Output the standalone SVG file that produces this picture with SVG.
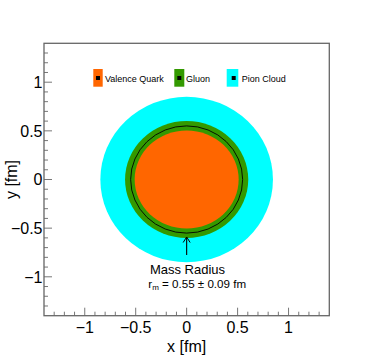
<svg xmlns="http://www.w3.org/2000/svg" width="374" height="360" viewBox="0 0 374 360">
<style>
text{font-family:"Liberation Sans",Arial,sans-serif;fill:#000}
.tl{font-size:16px}
.lg{font-size:9px}
.ann{font-size:13px}
.tick{stroke:#777;stroke-width:1;fill:none}
.frame{stroke:#666;stroke-width:1.3;fill:none}
.mk{fill:#000}
</style>
<defs>
<marker id="arr" viewBox="0 0 10 10" refX="9" refY="5" markerWidth="10" markerHeight="10" markerUnits="userSpaceOnUse" orient="auto">
<path d="M3.5,1.5 L9,5 L3.5,8.5" stroke="#000" stroke-width="1" fill="none"/>
</marker>
</defs>
<rect width="374" height="360" fill="#fff"/>
<g id="pion-cloud"><ellipse cx="186.65" cy="179.5" rx="86.3" ry="82.7" fill="#00ffff"/></g>
<g id="gluon"><ellipse cx="186.65" cy="179.5" rx="61.6" ry="58.4" fill="#339900"/></g>
<g id="valence-quark"><ellipse cx="186.65" cy="179.5" rx="52" ry="49" fill="#ff6600"/></g>
<g id="mass-radius-circle"><ellipse cx="186.65" cy="179.5" rx="56" ry="53.6" fill="none" stroke="#000" stroke-width="0.9"/></g>
<g id="connectors">
<line x1="186.65" y1="255" x2="186.65" y2="237" stroke="#000" stroke-width="1.1" marker-end="url(#arr)"/>
</g>
<g id="mass-radius-label">
<text class="ann" x="187.5" y="273.5" text-anchor="middle">Mass Radius</text>
<text x="148.3" y="287.5" style="font-size:11.6px">r<tspan dy="2.5" style="font-size:8px">m</tspan><tspan dy="-2.5"> = 0.55 ± 0.09 fm</tspan></text>
</g>
<g id="legend">
<rect x="93.3" y="69" width="9.4" height="17.7" fill="#ff6600"/>
<rect x="96" y="76" width="4" height="4" class="mk"/>
<text class="lg" x="105" y="82">Valence Quark</text>
<rect x="174.3" y="69" width="10" height="17.7" fill="#339900"/>
<rect x="177.3" y="76" width="4" height="4" class="mk"/>
<text class="lg" x="186" y="82">Gluon</text>
<rect x="226.7" y="69" width="11.6" height="17.7" fill="#00ffff"/>
<rect x="231.7" y="76" width="4" height="4" class="mk"/>
<text class="lg" x="241.7" y="82">Pion Cloud</text>
</g>
<g id="axes">
<path class="tick" d="M54.18,315.7v-4M64.37,315.7v-4M74.56,315.7v-4M84.75,315.7v-8M94.94,315.7v-4M105.13,315.7v-4M115.32,315.7v-4M125.51,315.7v-4M135.7,315.7v-8M145.89,315.7v-4M156.08,315.7v-4M166.27,315.7v-4M176.46,315.7v-4M186.65,315.7v-8M196.84,315.7v-4M207.03,315.7v-4M217.22,315.7v-4M227.41,315.7v-4M237.6,315.7v-8M247.79,315.7v-4M257.98,315.7v-4M268.17,315.7v-4M278.36,315.7v-4M288.55,315.7v-8M298.74,315.7v-4M308.93,315.7v-4M319.12,315.7v-4"/>
<path class="tick" d="M44,53.01h4M44,62.74h4M44,72.47h4M44,82.2h8M44,91.93h4M44,101.66h4M44,111.39h4M44,121.12h4M44,130.85h8M44,140.58h4M44,150.31h4M44,160.04h4M44,169.77h4M44,179.5h8M44,189.23h4M44,198.96h4M44,208.69h4M44,218.42h4M44,228.15h8M44,237.88h4M44,247.61h4M44,257.34h4M44,267.07h4M44,276.8h8M44,286.53h4M44,296.26h4M44,305.99h4"/>
<rect class="frame" x="44" y="43.3" width="285.3" height="272.4"/>
<g class="tl" text-anchor="middle">
<text x="84.75" y="333">−1</text>
<text x="135.7" y="333">−0.5</text>
<text x="186.65" y="333">0</text>
<text x="237.6" y="333">0.5</text>
<text x="288.55" y="333">1</text>
</g>
<g class="tl" text-anchor="end">
<text x="42.5" y="88">1</text>
<text x="42.5" y="136.7">0.5</text>
<text x="42.5" y="185.4">0</text>
<text x="42.5" y="234">−0.5</text>
<text x="42.5" y="282.7">−1</text>
</g>
<text class="tl" x="186.65" y="352" text-anchor="middle">x [fm]</text>
<text class="tl" transform="translate(17,179.5) rotate(-90)" text-anchor="middle">y [fm]</text>
</g>
</svg>
